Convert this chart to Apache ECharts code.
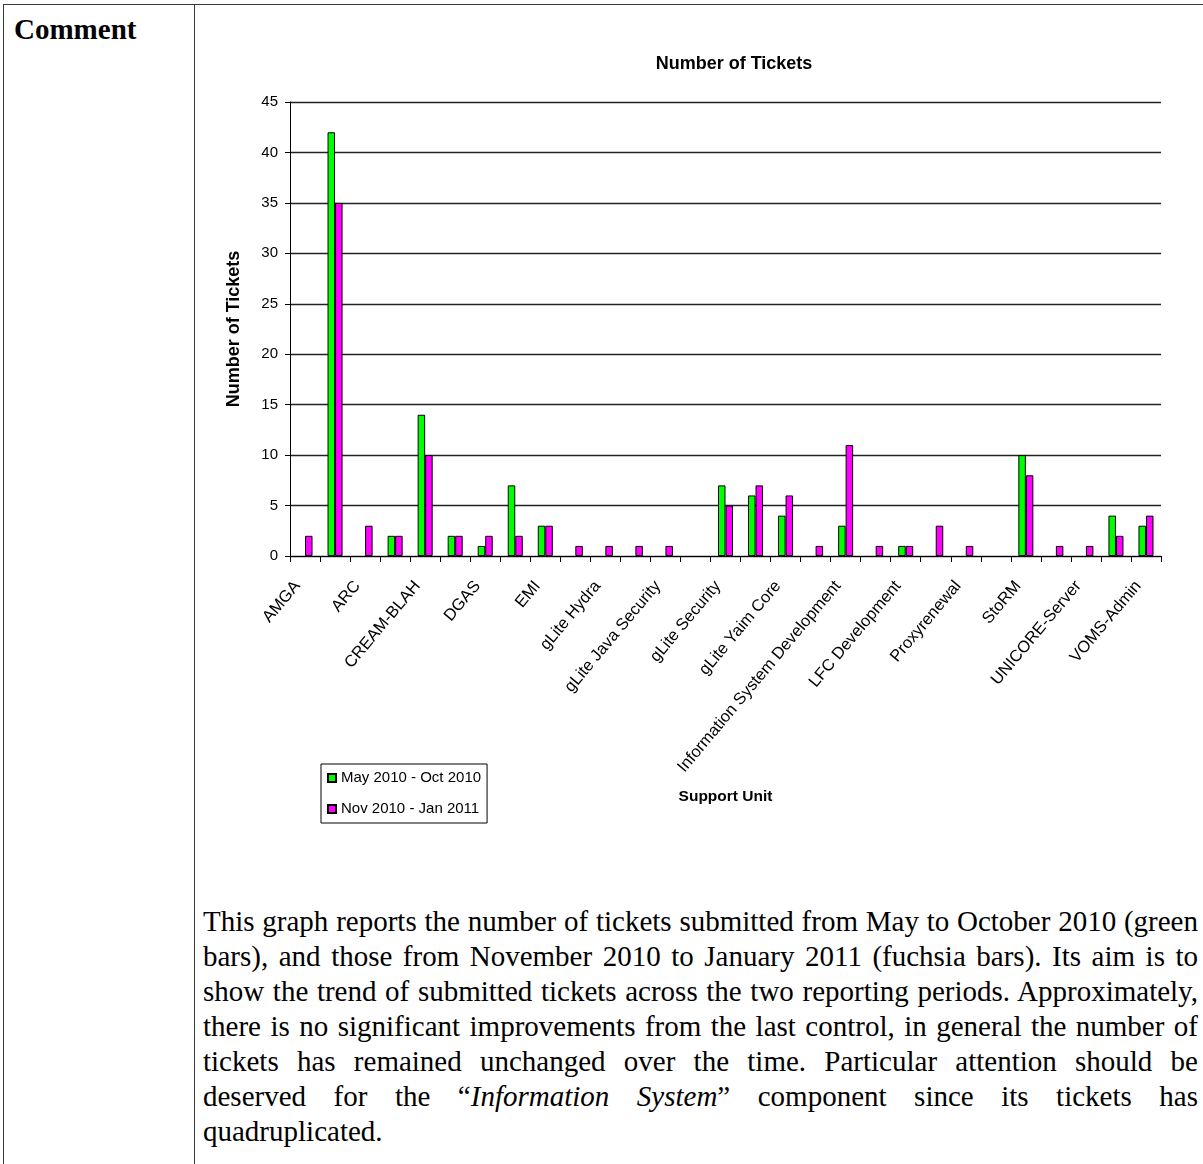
<!DOCTYPE html>
<html>
<head>
<meta charset="utf-8">
<script src="https://cdn.jsdelivr.net/npm/echarts@6/dist/echarts.min.js"></script>
<style>
html,body{margin:0;padding:0;width:1203px;height:1164px;overflow:hidden;background:#fff;}
.rule{position:absolute;background:#3a3a3a;}
#heading{position:absolute;left:14px;top:15px;font-family:'Liberation Serif','Times New Roman',serif;font-weight:bold;font-size:29px;line-height:29px;color:#000;white-space:nowrap;}
#para{position:absolute;left:203px;top:904px;width:995px;font-family:'Liberation Serif','Times New Roman',serif;font-size:29px;line-height:35px;color:#000;}
#para div{text-align:justify;text-align-last:justify;white-space:nowrap;}
#para div.last{text-align-last:left;}
#chart{position:absolute;left:0;top:0;width:1203px;height:1164px;}
</style>
</head>
<body>
<div class="rule" style="left:3px;top:4px;width:1200px;height:1px;"></div>
<div class="rule" style="left:3px;top:4px;width:1px;height:1160px;"></div>
<div class="rule" style="left:194px;top:4px;width:1px;height:1160px;"></div>
<div id="heading">Comment</div>
<div id="para">
<div>This graph reports the number of tickets submitted from May to October 2010 (green</div>
<div>bars), and those from November 2010 to January 2011 (fuchsia bars). Its aim is to</div>
<div>show the trend of submitted tickets across the two reporting periods. Approximately,</div>
<div>there is no significant improvements from the last control, in general the number of</div>
<div>tickets has remained unchanged over the time. Particular attention should be</div>
<div>deserved for the “<i>Information System</i>” component since its tickets has</div>
<div class="last">quadruplicated.</div>
</div>
<div id="chart"></div>
<script>
// Support units (every other label is shown on the axis)
const categories = [
  "AMGA","APEL","ARC","ARGUS","CREAM-BLAH","dCache","DGAS","DPM","EMI","FTS",
  "gLite Hydra","gLite Identity Security","gLite Java Security","gLite L&B","gLite Security",
  "gLite WMS","gLite Yaim Core","Information System","Information System Development","LFC",
  "LFC Development","MPI","Proxyrenewal","SAGA","StoRM","UNICORE-Client","UNICORE-Server","VOMS","VOMS-Admin"
];
const seriesNames = ["May 2010 - Oct 2010", "Nov 2010 - Jan 2011"];
// May 2010 - Oct 2010 (green)
const ticketsMayOct = [0,42,0,2,14,2,1,7,3,0,0,0,0,0,7,6,4,0,3,0,1,0,0,0,10,0,0,4,3];
// Nov 2010 - Jan 2011 (fuchsia)
const ticketsNovJan = [2,35,3,2,10,2,2,2,3,1,1,1,1,0,5,7,6,1,11,1,1,3,1,0,8,1,1,2,4];
const yMin = 0, yMax = 45, yStep = 5;

// zero counts draw no bar
const asBars = arr => arr.map(v => (v === 0 ? null : v));

const FONT = "'Liberation Sans', Arial, sans-serif";
const chart = echarts.init(document.getElementById('chart'), null, {renderer: 'canvas'});
chart.setOption({
  animation: false,
  backgroundColor: 'transparent',
  textStyle: {fontFamily: FONT, color: '#000'},
  title: {
    text: 'Number of Tickets',
    left: 729, top: 50, textAlign: 'center',
    textStyle: {fontFamily: FONT, fontSize: 18, fontWeight: 'bold', color: '#000'}
  },
  legend: {
    orient: 'vertical',
    left: 321, top: 764,
    padding: [5, 6, 5, 6],
    itemWidth: 8, itemHeight: 8, itemGap: 13,
    borderColor: '#000', borderWidth: 1,
    icon: 'rect',
    textStyle: {fontFamily: FONT, fontSize: 15, lineHeight: 18, color: '#000'},
    data: seriesNames
  },
  grid: {left: 290, right: 42, top: 102, bottom: 608, containLabel: false},
  xAxis: {
    type: 'category',
    data: categories,
    name: 'Support Unit',
    nameLocation: 'middle',
    nameGap: 233,
    nameTextStyle: {fontFamily: FONT, fontSize: 15.5, fontWeight: 'bold', color: '#000'},
    axisLine: {lineStyle: {color: '#000', width: 1}},
    axisTick: {show: true, interval: 0, length: 6, lineStyle: {color: '#000'}},
    axisLabel: {interval: 1, rotate: 50, fontSize: 16.5, color: '#000', margin: 18, padding: [0, 12, 0, 0], fontFamily: FONT}
  },
  yAxis: {
    type: 'value',
    min: yMin, max: yMax, interval: yStep,
    name: 'Number of Tickets',
    nameLocation: 'middle',
    nameRotate: 90,
    nameGap: 47,
    nameTextStyle: {fontFamily: FONT, fontSize: 18, fontWeight: 'bold', color: '#000'},
    axisLine: {show: true, lineStyle: {color: '#000', width: 1}},
    axisTick: {show: true, length: 5, lineStyle: {color: '#000'}},
    axisLabel: {fontSize: 15, color: '#000', margin: 12, fontFamily: FONT},
    splitLine: {show: true, lineStyle: {color: '#222', width: 1.3}}
  },
  series: [
    {
      name: seriesNames[0], type: 'bar', data: asBars(ticketsMayOct),
      barGap: '0%', barCategoryGap: '50%',
      itemStyle: {color: '#00ff00', borderColor: '#000', borderWidth: 1}
    },
    {
      name: seriesNames[1], type: 'bar', data: asBars(ticketsNovJan),
      barGap: '0%', barCategoryGap: '50%',
      itemStyle: {color: '#ff00ff', borderColor: '#000', borderWidth: 1}
    }
  ]
});
</script>
</body>
</html>
